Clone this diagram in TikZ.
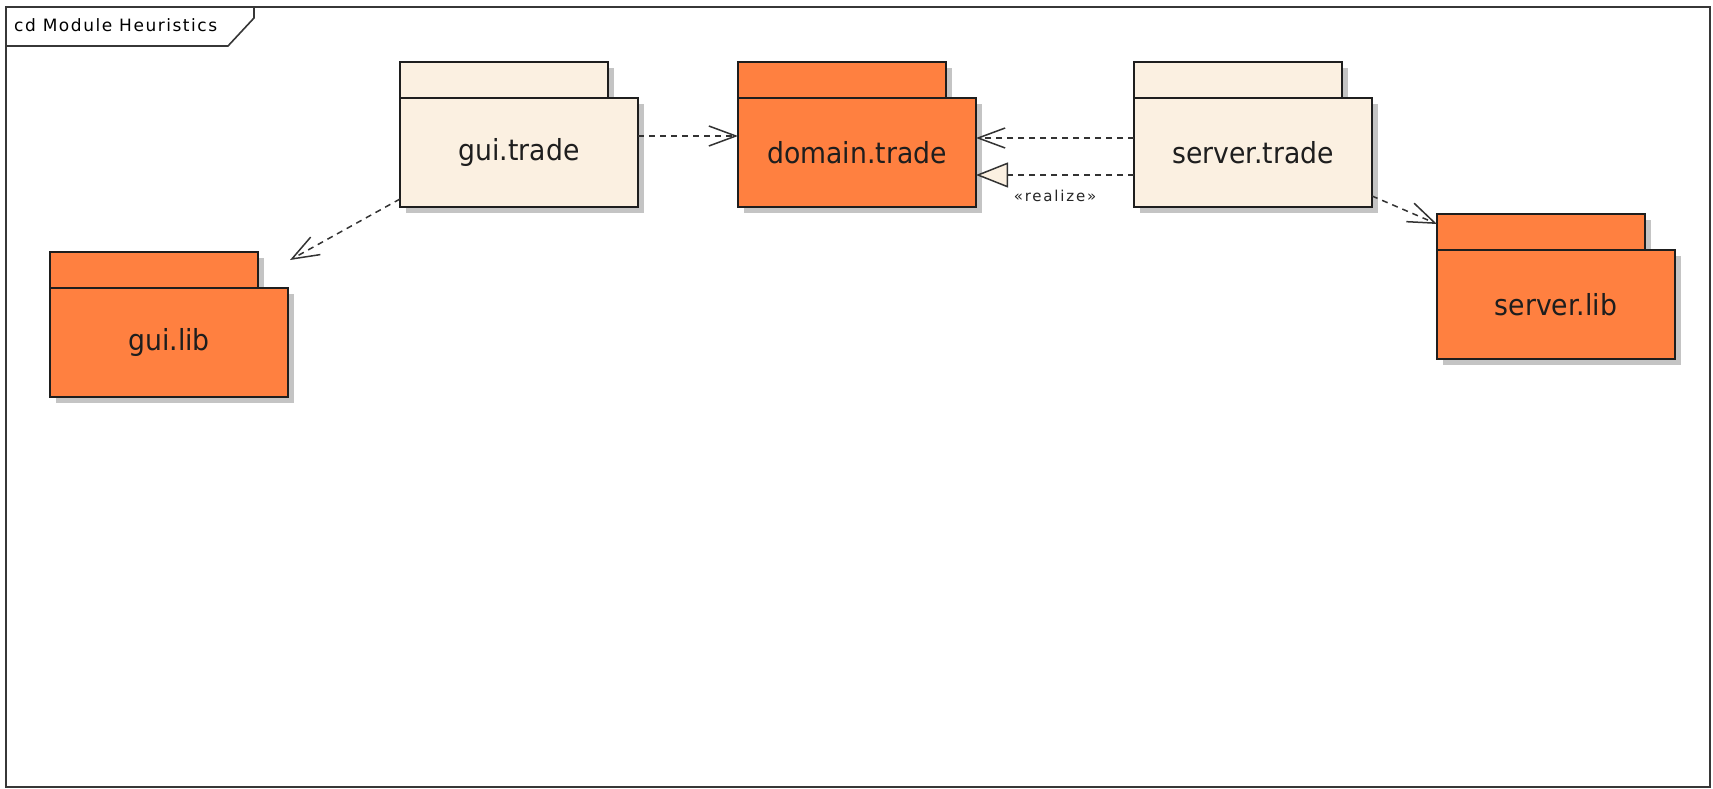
\documentclass[tikz,border=0pt]{standalone}
\usepackage{fontspec}
\usetikzlibrary{arrows.meta,shadows,calc}

\setmainfont{DejaVu Sans}
\newfontfamily\pkgfont[FakeStretch=0.92]{DejaVu Sans}
\newfontfamily\titlefont[LetterSpace=9]{DejaVu Sans}
\newfontfamily\stereofont[LetterSpace=12]{DejaVu Sans}

\definecolor{pkgcream}{RGB}{251,240,225}
\definecolor{pkgorange}{RGB}{255,128,64}
\definecolor{edgecol}{RGB}{30,30,30}
\definecolor{shadecol}{RGB}{196,196,196}
\definecolor{framecol}{RGB}{55,55,55}

\tikzset{
  pkgshade/.style={drop shadow={shadow xshift=6pt,shadow yshift=-6pt,fill=shadecol,opacity=1}},
  pkgtab/.style={draw=edgecol, line width=1.8pt, minimum width=208pt, minimum height=36pt,
    inner sep=0pt, outer sep=0pt, anchor=south west, pkgshade},
  pkgbody/.style={draw=edgecol, line width=1.8pt, minimum width=238pt, minimum height=109pt,
    inner sep=0pt, outer sep=0pt, anchor=north west, pkgshade, text=edgecol,
    font=\pkgfont\fontsize{29pt}{34pt}\selectfont},
  dep/.style={draw=black!80, line width=1.5pt, dash pattern=on 6pt off 5pt,
    -{Straight Barb[length=27pt,width=20pt,line width=1.5pt]}},
  realize/.style={draw=black!80, line width=1.5pt, dash pattern=on 6pt off 5pt,
    -{Triangle[length=32pt,width=25pt,fill=pkgcream,line width=1.5pt]}},
  stereolabel/.style={font=\stereofont\fontsize{15pt}{18pt}\selectfont, text=black!85, inner sep=0pt},
  framebox/.style={draw=framecol, line width=2pt, fill=none},
}

% package: tab drawn first, body on top of the tab's shadow
\newcommand\umlpkg[5]{%
  \node[pkgtab, fill=#4] (#1tab) at (#2,#3) {};
  \node[pkgbody, fill=#4] (#1) at (#2,#3) {#5};
}

\begin{document}
\begin{tikzpicture}[x=1pt,y=-1pt]
  \useasboundingbox (0,0) rectangle (1713,789);
  \fill[white] (0,0) rectangle (1713,789);

  % diagram frame and its name tab
  \draw[framebox] (5.5,7.5) rectangle (1709.5,786.5);
  \draw[framecol, line width=1.6pt] (5.5,46) -- (228,46) -- (254,18) -- (254,7.5);
  \node[anchor=base west, inner sep=0pt, font=\titlefont\fontsize{17pt}{20pt}\selectfont]
    (title) at (14,32) {cd Module Heuristics};

  % packages
  \umlpkg{guitrade}{400}{98}{pkgcream}{gui.trade}
  \umlpkg{domain}{738}{98}{pkgorange}{domain.trade}
  \umlpkg{servertrade}{1134}{98}{pkgcream}{server.trade}
  \umlpkg{guilib}{50}{288}{pkgorange}{gui.lib}
  \umlpkg{serverlib}{1437}{250}{pkgorange}{server.lib}

  % dependencies
  \draw[dep] ([yshift=16.5pt]guitrade.east) -- ([yshift=16.5pt]domain.west);
  \draw[dep] ([yshift=14.5pt]servertrade.west) -- ([yshift=14.5pt]domain.east);
  \draw[dep] ([yshift=8pt]guitrade.south west) -- ($(guilib.north east)+(2,-28)$);
  \draw[dep] ([yshift=11pt]servertrade.south east) -- ([yshift=8pt]serverlibtab.west);

  % realization
  \draw[realize] ([yshift=-22.5pt]servertrade.west) -- ([yshift=-22.5pt]domain.east)
    node[midway, yshift=-21pt, stereolabel] (realizelbl) {«realize»};
\end{tikzpicture}
\end{document}
